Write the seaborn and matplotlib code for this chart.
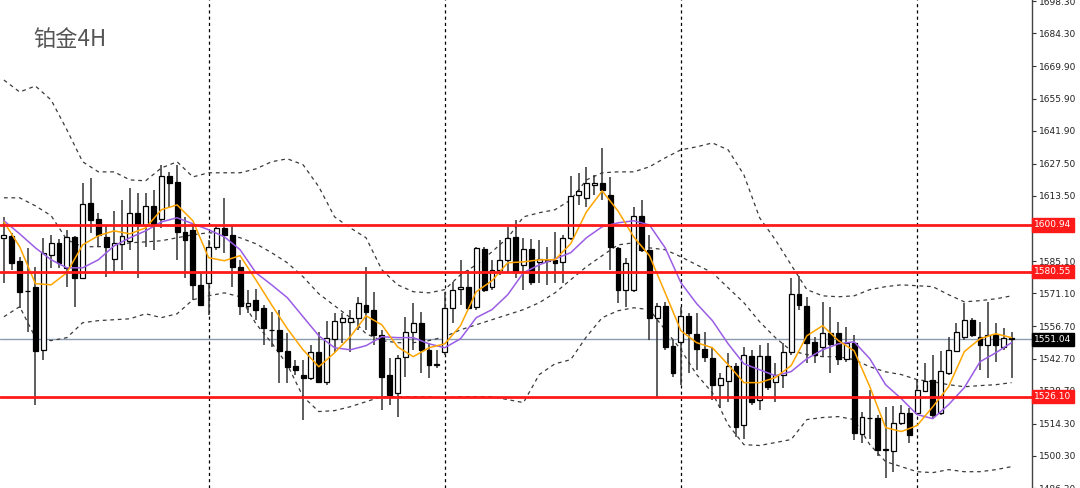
import numpy as np
import pandas as pd
import matplotlib
matplotlib.use("Agg")
import matplotlib.pyplot as plt
import matplotlib.transforms as mtransforms
import seaborn as sns

# candle data (4H platinum)
opens = [1595.0, 1596.2, 1585.3, 1572.2, 1574.0, 1546.5, 1587.9, 1593.1, 1582.2, 1595.7,
         1577.9, 1610.5, 1603.5, 1595.7, 1586.1, 1592.7, 1594.0, 1606.2, 1600.9, 1609.2,
         1603.5, 1622.3, 1619.6, 1597.9, 1598.8, 1574.8, 1575.7, 1591.4, 1599.6, 1596.6,
         1582.7, 1565.7, 1568.3, 1564.8, 1555.3, 1555.2, 1546.1, 1539.6, 1535.7, 1534.4,
         1545.7, 1532.6, 1551.3, 1558.7, 1558.7, 1560.5, 1566.1, 1564.0, 1553.1, 1535.7,
         1527.8, 1543.5, 1554.4, 1558.3, 1546.5, 1540.0, 1545.4, 1564.8, 1573.1, 1574.0,
         1565.3, 1590.5, 1574.0, 1581.4, 1585.7, 1595.7, 1583.5, 1590.5, 1584.8, 1585.7,
         1585.7, 1584.8, 1595.3, 1614.0, 1612.7, 1618.3, 1619.2, 1614.0, 1590.9, 1572.7,
         1572.7, 1604.8, 1590.1, 1560.5, 1565.7, 1548.2, 1550.0, 1561.3, 1553.5, 1547.0,
         1543.0, 1531.3, 1533.0, 1539.6, 1513.9, 1543.9, 1524.8, 1543.9, 1532.6, 1535.7,
         1545.7, 1570.9, 1565.7, 1550.0, 1547.8, 1554.0, 1554.0, 1542.6, 1549.6, 1510.0,
         1517.0, 1516.9, 1503.0, 1502.2, 1514.8, 1519.1, 1519.1, 1528.7, 1533.5, 1519.1,
         1536.5, 1546.1, 1552.2, 1559.6, 1552.2, 1548.7, 1553.1, 1547.8, 1551.8]
highs = [1604.4, 1597.5, 1587.0, 1590.9, 1582.7, 1595.3, 1596.6, 1594.8, 1598.8, 1596.2,
         1619.2, 1621.4, 1606.2, 1600.9, 1607.0, 1611.8, 1617.0, 1614.9, 1614.9, 1616.2,
         1627.0, 1624.0, 1627.0, 1604.4, 1601.8, 1580.1, 1594.4, 1600.9, 1612.7, 1600.9,
         1585.7, 1572.7, 1573.1, 1566.1, 1563.1, 1564.0, 1553.9, 1542.2, 1542.2, 1548.7,
         1554.4, 1559.2, 1562.6, 1562.6, 1564.0, 1569.6, 1582.7, 1571.8, 1555.2, 1543.0,
         1544.3, 1560.9, 1567.0, 1563.1, 1549.6, 1546.5, 1571.8, 1576.1, 1585.7, 1581.4,
         1591.4, 1591.4, 1585.7, 1594.4, 1600.1, 1603.1, 1595.3, 1594.8, 1594.4, 1591.4,
         1597.9, 1596.6, 1622.3, 1623.6, 1626.2, 1622.7, 1634.4, 1621.8, 1591.4, 1586.6,
         1608.8, 1611.8, 1596.6, 1567.0, 1567.4, 1550.9, 1565.3, 1562.6, 1562.6, 1554.4,
         1547.8, 1536.5, 1545.2, 1540.9, 1547.8, 1546.5, 1548.7, 1549.6, 1540.9, 1549.6,
         1577.9, 1578.8, 1569.6, 1552.2, 1567.4, 1565.3, 1558.7, 1556.5, 1553.1, 1519.6,
         1529.1, 1518.3, 1521.7, 1522.2, 1522.6, 1521.3, 1533.5, 1540.9, 1544.4, 1546.1,
         1552.2, 1558.3, 1567.0, 1560.5, 1558.7, 1567.4, 1558.3, 1556.1, 1554.4]
lows = [1575.7, 1581.4, 1564.8, 1554.4, 1522.6, 1542.2, 1582.2, 1582.2, 1574.0, 1565.2,
        1577.9, 1597.5, 1591.4, 1578.3, 1580.5, 1581.4, 1590.1, 1577.9, 1591.4, 1590.1,
        1599.6, 1608.8, 1585.7, 1577.9, 1568.3, 1566.1, 1561.8, 1590.1, 1588.8, 1574.0,
        1561.8, 1562.6, 1559.6, 1548.7, 1547.8, 1532.2, 1532.2, 1535.7, 1516.1, 1533.5,
        1532.2, 1531.3, 1545.7, 1549.6, 1545.7, 1555.2, 1555.2, 1548.7, 1520.4, 1522.6,
        1517.4, 1534.8, 1546.5, 1536.5, 1534.4, 1538.7, 1544.4, 1558.3, 1566.1, 1564.0,
        1564.0, 1571.8, 1572.7, 1579.2, 1580.1, 1577.9, 1572.7, 1574.8, 1575.7, 1574.8,
        1575.7, 1575.7, 1594.4, 1609.6, 1608.8, 1614.0, 1611.8, 1581.4, 1567.0, 1565.3,
        1571.8, 1589.2, 1550.9, 1525.6, 1546.5, 1534.8, 1531.3, 1536.5, 1537.8, 1541.3,
        1524.8, 1521.3, 1523.9, 1508.7, 1507.8, 1522.6, 1520.4, 1529.1, 1523.9, 1530.0,
        1544.4, 1564.0, 1540.9, 1540.9, 1543.5, 1536.5, 1540.0, 1541.3, 1507.4, 1506.1,
        1507.8, 1500.4, 1490.8, 1493.4, 1513.9, 1506.1, 1518.3, 1528.3, 1516.9, 1518.3,
        1535.7, 1545.7, 1550.9, 1552.2, 1537.8, 1534.4, 1541.3, 1546.5, 1534.4]
closes = [1596.3, 1584.4, 1571.8, 1572.0, 1546.1, 1588.7, 1593.1, 1584.4, 1595.7, 1577.9,
          1610.1, 1603.1, 1596.6, 1591.4, 1593.1, 1596.2, 1606.2, 1601.4, 1609.2, 1601.4,
          1622.3, 1619.2, 1597.9, 1594.4, 1574.8, 1566.1, 1591.4, 1599.6, 1596.6, 1582.7,
          1565.7, 1567.0, 1564.0, 1556.1, 1555.0, 1546.1, 1539.1, 1537.8, 1534.4, 1545.7,
          1532.6, 1551.8, 1559.2, 1560.5, 1560.5, 1567.0, 1563.1, 1553.1, 1534.8, 1526.9,
          1543.0, 1554.4, 1558.3, 1546.5, 1540.0, 1540.4, 1564.8, 1572.7, 1574.0, 1564.8,
          1590.9, 1572.7, 1581.4, 1585.7, 1595.3, 1580.5, 1590.5, 1576.1, 1586.1, 1585.3,
          1584.4, 1595.3, 1613.6, 1615.7, 1619.2, 1619.2, 1616.2, 1591.4, 1572.7, 1584.4,
          1604.8, 1590.1, 1560.5, 1565.7, 1547.8, 1536.5, 1561.3, 1554.0, 1547.0, 1543.5,
          1531.3, 1534.4, 1539.6, 1513.0, 1544.4, 1523.9, 1543.9, 1530.4, 1535.7, 1545.7,
          1570.9, 1566.1, 1549.6, 1544.4, 1554.0, 1549.1, 1542.6, 1549.6, 1510.4, 1517.4,
          1516.8, 1503.0, 1503.2, 1514.8, 1519.1, 1509.6, 1529.1, 1533.0, 1518.3, 1537.4,
          1546.5, 1554.4, 1559.6, 1553.1, 1548.7, 1553.1, 1548.7, 1551.8, 1551.04]

# indicator lines, read every second candle
ind_step = 2
bb_upper = [1664.0, 1658.8, 1661.4, 1655.3, 1642.3, 1628.4, 1624.0, 1624.0, 1620.5, 1620.1,
            1625.7, 1628.4, 1621.8, 1623.6, 1623.6, 1623.6, 1625.3, 1628.4, 1629.7, 1627.1,
            1617.5, 1604.4, 1599.6, 1595.3, 1581.4, 1574.8, 1571.8, 1571.3, 1572.7, 1579.2,
            1583.5, 1589.2, 1595.3, 1604.4, 1606.2, 1607.5, 1611.8, 1620.5, 1623.6, 1624.0,
            1624.0, 1626.2, 1630.1, 1633.6, 1634.9, 1636.6, 1633.6, 1622.7, 1604.0, 1594.4,
            1583.5, 1572.7, 1570.0, 1569.6, 1570.0, 1572.7, 1574.0, 1574.8, 1574.4, 1574.0,
            1570.5, 1567.4, 1567.9, 1568.7, 1570.0]
bb_mid = [1612.7, 1612.7, 1609.2, 1604.9, 1594.4, 1591.4, 1591.4, 1591.8, 1593.1, 1593.5,
          1594.0, 1595.3, 1596.6, 1597.5, 1597.0, 1595.3, 1592.7, 1588.8, 1584.4, 1578.3,
          1570.9, 1565.7, 1560.5, 1553.5, 1550.5, 1549.6, 1549.6, 1550.5, 1552.2, 1555.2,
          1557.4, 1559.6, 1561.8, 1564.0, 1567.0, 1571.3, 1577.0, 1582.7, 1587.5, 1592.2,
          1593.1, 1590.9, 1590.1, 1587.0, 1583.5, 1580.1, 1573.5, 1567.0, 1558.7, 1551.8,
          1546.1, 1544.4, 1543.5, 1543.5, 1542.2, 1539.1, 1536.9, 1535.7, 1533.5, 1532.6,
          1531.3, 1530.4, 1530.9, 1531.3, 1532.2]
bb_lower = [1560.9, 1565.3, 1551.8, 1550.5, 1551.8, 1558.3, 1559.2, 1559.6, 1560.0, 1562.2,
            1560.5, 1562.2, 1568.3, 1570.0, 1571.3, 1569.6, 1557.9, 1549.6, 1540.0, 1526.1,
            1519.6, 1520.0, 1521.7, 1523.9, 1526.1, 1526.1, 1526.1, 1526.1, 1525.6, 1526.1,
            1526.1, 1526.1, 1524.8, 1523.5, 1535.7, 1540.4, 1542.2, 1552.2, 1560.5, 1563.5,
            1564.8, 1564.0, 1555.2, 1546.5, 1535.7, 1527.8, 1513.9, 1505.2, 1504.8, 1506.1,
            1507.4, 1516.1, 1517.0, 1517.4, 1516.1, 1505.2, 1497.8, 1495.6, 1493.4, 1493.0,
            1494.3, 1493.4, 1493.4, 1494.3, 1495.6]
ma_fast = [1602.2, 1591.4, 1575.3, 1574.8, 1580.1, 1592.2, 1596.2, 1598.3, 1597.0, 1599.6,
           1607.5, 1609.6, 1602.7, 1586.6, 1585.3, 1587.5, 1577.0, 1566.1, 1555.7, 1546.5,
           1539.1, 1545.2, 1552.2, 1561.3, 1557.4, 1547.8, 1543.5, 1547.4, 1549.1, 1557.0,
           1571.8, 1576.6, 1584.4, 1584.8, 1585.7, 1585.7, 1592.7, 1606.6, 1615.7, 1607.0,
           1595.7, 1587.5, 1571.3, 1554.8, 1549.6, 1547.4, 1540.0, 1532.2, 1532.2, 1534.4,
           1539.6, 1552.6, 1557.0, 1550.5, 1546.1, 1530.4, 1512.6, 1510.9, 1513.5, 1521.7,
           1530.4, 1545.7, 1551.3, 1553.5, 1551.8]
ma_slow = [1602.7, 1597.0, 1590.9, 1585.7, 1582.2, 1582.2, 1585.7, 1591.8, 1595.3, 1598.3,
           1602.2, 1604.0, 1601.4, 1598.8, 1595.7, 1590.1, 1580.1, 1574.8, 1569.2, 1560.9,
           1552.6, 1547.4, 1546.5, 1548.3, 1552.2, 1551.8, 1551.8, 1549.1, 1547.4, 1551.3,
           1560.5, 1564.0, 1570.5, 1580.1, 1583.5, 1586.1, 1588.8, 1595.3, 1600.1, 1601.8,
           1602.7, 1600.9, 1590.9, 1575.7, 1566.6, 1559.2, 1549.1, 1540.4, 1537.8, 1535.2,
           1537.0, 1542.6, 1546.5, 1549.1, 1550.0, 1542.6, 1531.3, 1525.2, 1518.3, 1516.5,
           1522.6, 1530.0, 1541.3, 1545.2, 1549.6]

levels = [1600.94, 1580.55, 1526.10]
last_price = 1551.04
week_starts = [26, 56, 86, 116]
price_ticks = [1698.30, 1684.30, 1669.90, 1655.90, 1641.90, 1627.50, 1613.50, 1599.50,
               1585.10, 1571.10, 1556.70, 1542.70, 1528.70, 1514.30, 1500.30, 1486.30]
title = "铂金4H"

sns.set_style("white")
plt.rcParams['font.family'] = ['DejaVu Sans']

candles = pd.DataFrame({"open": opens, "high": highs, "low": lows, "close": closes})
candles["i"] = np.arange(len(candles))
ind = pd.DataFrame({"upper": bb_upper, "mid": bb_mid, "lower": bb_lower,
                    "fast": ma_fast, "slow": ma_slow})
ind["i"] = np.arange(len(ind)) * ind_step

fig = plt.figure(figsize=(10.8, 4.88), dpi=100)
ax = fig.add_axes([0, 0, 1032 / 1080, 1])

# bollinger bands
for col in ["upper", "mid", "lower"]:
    sns.lineplot(data=ind, x="i", y=col, ax=ax, color="#3a3a3a", lw=0.9,
                 linestyle=(0, (3, 3)), zorder=2)

# candles
up = candles[candles.close >= candles.open]
dn = candles[candles.close < candles.open]
ax.vlines(candles.i, candles.low, candles.high, color="#333333", lw=1.1, zorder=3)
ax.bar(up.i, up.close - up.open, bottom=up.open, width=0.62,
       color="white", edgecolor="black", linewidth=0.9, zorder=4)
ax.bar(dn.i, dn.open - dn.close, bottom=dn.close, width=0.62,
       color="black", edgecolor="black", linewidth=0.9, zorder=4)

# moving averages
sns.lineplot(data=ind, x="i", y="slow", ax=ax, color="#9b5de5", lw=1.1, zorder=5)
sns.lineplot(data=ind, x="i", y="fast", ax=ax, color="#ffa500", lw=1.1, zorder=6)

# level lines
for lv in levels:
    ax.axhline(lv, color="#ff1a1a", lw=2, zorder=7)
ax.axhline(last_price, color="#8a9bb0", lw=1, zorder=1)
for ws in week_starts:
    ax.axvline(ws, color="black", lw=0.9, linestyle=(0, (2.5, 2.5)), zorder=1)

ax.set_xlim(-0.5, 130.6)
ax.set_ylim(1486.48, 1698.86)
ax.set_xticks([])
ax.set_xlabel("")
ax.set_ylabel("")
ax.yaxis.tick_right()
ax.set_yticks(price_ticks)
ax.set_yticklabels([f"{t:.2f}" for t in price_ticks], fontsize=6.5, color="#222222")
ax.tick_params(axis="y", length=3, width=0.8, color="#333333", pad=2, right=True)
for s in ["top", "left", "bottom"]:
    ax.spines[s].set_visible(False)
ax.spines["right"].set_color("#444444")
ax.spines["right"].set_linewidth(1)

trans = mtransforms.blended_transform_factory(ax.transAxes, ax.transData)
for lv in levels:
    ax.text(1.002, lv, f"{lv:.2f}", transform=trans, fontsize=6.5, color="white",
            va="center", ha="left", clip_on=False, zorder=10,
            bbox=dict(boxstyle="square,pad=0.25", fc="#ff1a1a", ec="#ff1a1a"))
ax.text(1.002, last_price, f"{last_price:.2f}", transform=trans, fontsize=6.5,
        color="white", va="center", ha="left", clip_on=False, zorder=10,
        bbox=dict(boxstyle="square,pad=0.25", fc="black", ec="black"))

fig.text(33 / 1080, 1 - 39 / 488, title, fontsize=16, color="#555555", va="center",
         ha="left", family=["Noto Sans CJK SC", "DejaVu Sans"])

fig.savefig("out.png", dpi=100)
